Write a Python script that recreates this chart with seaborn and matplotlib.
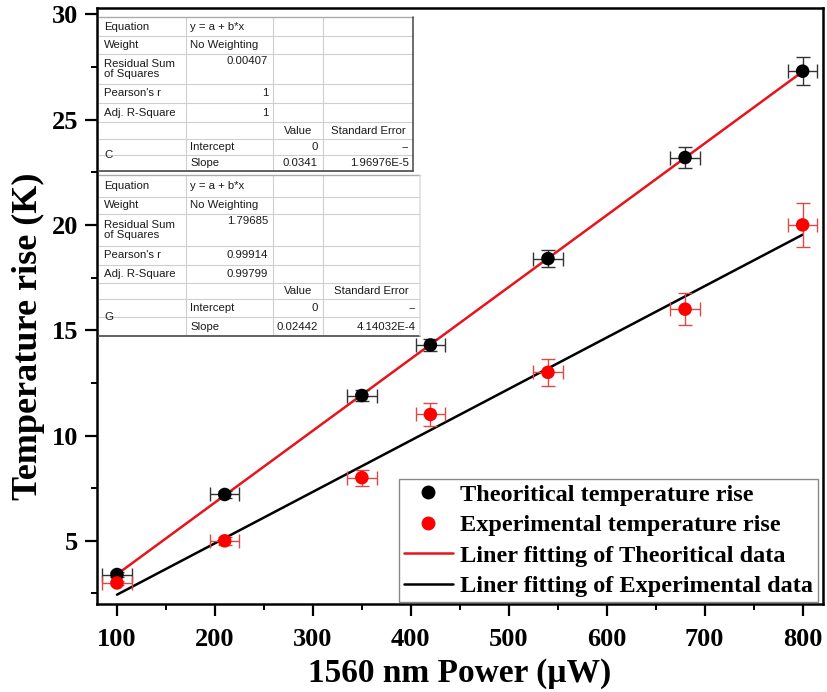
import numpy as np
import pandas as pd
import matplotlib
matplotlib.use('Agg')
import matplotlib.pyplot as plt
from matplotlib.lines import Line2D
import seaborn as sns

# data
power = [100, 210, 350, 420, 540, 680, 800]
power_err = [15, 15, 15, 15, 15, 15, 15]
theory_rise = [3.4, 7.2, 11.9, 14.3, 18.4, 23.2, 27.3]
theory_err = [0.1, 0.15, 0.25, 0.3, 0.4, 0.5, 0.65]
exp_rise = [3.0, 5.0, 8.0, 11.0, 13.0, 16.0, 20.0]
exp_err = [0.1, 0.2, 0.38, 0.55, 0.65, 0.75, 1.05]

# linear fits (intercept fixed at 0)
fit_x = [100, 800]
theory_slope = 0.0341
exp_slope = 0.02442

# fit report tables
table_c = [
    ["Equation", "y = a + b*x", "", ""],
    ["Weight", "No Weighting", "", ""],
    ["Residual Sum\nof Squares", "0.00407", "", ""],
    ["Pearson's r", "1", "", ""],
    ["Adj. R-Square", "1", "", ""],
    ["", "", "Value", "Standard Error"],
    ["C", "Intercept", "0", "--"],
    ["", "Slope", "0.0341", "1.96976E-5"],
]
table_g = [
    ["Equation", "y = a + b*x", "", ""],
    ["Weight", "No Weighting", "", ""],
    ["Residual Sum\nof Squares", "1.79685", "", ""],
    ["Pearson's r", "0.99914", "", ""],
    ["Adj. R-Square", "0.99799", "", ""],
    ["", "", "Value", "Standard Error"],
    ["G", "Intercept", "0", "--"],
    ["", "Slope", "0.02442", "4.14032E-4"],
]

sns.set_style('ticks')
plt.rcParams['font.family'] = ['Liberation Serif', 'DejaVu Serif']
plt.rcParams['font.weight'] = 'bold'
plt.rcParams['text.color'] = 'black'
plt.rcParams['axes.labelcolor'] = 'black'
plt.rcParams['xtick.color'] = 'black'
plt.rcParams['ytick.color'] = 'black'

W, H = 828, 692
fig = plt.figure(figsize=(W / 100, H / 100), dpi=100)
ax = fig.add_axes([97 / W, 1 - 604 / H, (823 - 97) / W, (604 - 8) / H])

theory_df = pd.DataFrame({'power': power, 'rise': theory_rise})
exp_df = pd.DataFrame({'power': power, 'rise': exp_rise})
fit_df = pd.DataFrame({
    'power': fit_x,
    'theory': [theory_slope * x for x in fit_x],
    'exp': [exp_slope * x for x in fit_x],
})

sns.lineplot(data=fit_df, x='power', y='theory', color='#e8141b', lw=1.8, ax=ax, zorder=2)
sns.lineplot(data=fit_df, x='power', y='exp', color='black', lw=1.8, ax=ax, zorder=2)

ax.errorbar(power, theory_rise, xerr=power_err, yerr=theory_err, fmt='none',
            ecolor='#333333', elinewidth=1, capsize=5, capthick=1, zorder=3)
ax.errorbar(power, exp_rise, xerr=power_err, yerr=exp_err, fmt='none',
            ecolor='#e04848', elinewidth=1, capsize=5, capthick=1, zorder=3)

sns.scatterplot(data=theory_df, x='power', y='rise', color='black', s=95,
                edgecolor='none', ax=ax, zorder=4)
sns.scatterplot(data=exp_df, x='power', y='rise', color='#ff0000', s=95,
                edgecolor='none', ax=ax, zorder=4)

ax.set_xlim(79.6, 820.8)
ax.set_ylim(2.0, 30.3)
ax.set_xticks(range(100, 801, 100))
ax.set_xticks(range(150, 801, 100), minor=True)
ax.set_yticks([5, 10, 15, 20, 25, 30])
ax.set_yticks([2.5, 7.5, 12.5, 17.5, 22.5, 27.5], minor=True)
ax.tick_params(which='major', direction='out', length=8.5, width=1.6, labelsize=19)
ax.tick_params(which='minor', direction='out', length=4, width=1.4)
ax.tick_params(axis='x', which='major', pad=9)
ax.tick_params(axis='y', which='major', pad=5)
for lab in ax.get_xticklabels() + ax.get_yticklabels():
    lab.set_fontweight('bold')
for sp in ax.spines.values():
    sp.set_visible(True)
    sp.set_linewidth(1.8)
    sp.set_color('black')

ax.set_xlabel('1560 nm Power (\u00b5W)', fontsize=24, fontweight='bold', labelpad=5)
ax.set_ylabel('Temperature rise (K)', fontsize=26, fontweight='bold')
ax.yaxis.set_label_coords(-0.072, 0.45)

handles = [
    Line2D([], [], ls='none', marker='o', color='black', markersize=9),
    Line2D([], [], ls='none', marker='o', color='#ff0000', markersize=9),
    Line2D([], [], color='#e8141b', lw=1.8),
    Line2D([], [], color='black', lw=1.8),
]
labels = ['Theoritical temperature rise', 'Experimental temperature rise',
          'Liner fitting of Theoritical data', 'Liner fitting of Experimental data']
leg = ax.legend(handles, labels, loc='lower right', bbox_to_anchor=(0.993, 0.003),
                borderaxespad=0,
                prop={'family': 'Liberation Serif', 'weight': 'bold', 'size': 17.5},
                frameon=True, fancybox=False, edgecolor='#888888', framealpha=1,
                handlelength=2.0, handletextpad=0.3, borderpad=0.2, labelspacing=0.35)
leg.get_frame().set_linewidth(1.0)

# overlay in pixel coordinates for the fit tables
ov = fig.add_axes([0, 0, 1, 1], zorder=5)
ov.set_xlim(0, W)
ov.set_ylim(H, 0)
ov.axis('off')


def draw_table(rows, row_y, col_x, edge):
    ov.add_patch(plt.Rectangle((col_x[0], row_y[0]), col_x[-1] - col_x[0],
                               row_y[-1] - row_y[0], facecolor='white',
                               edgecolor='none', zorder=1))
    for y in row_y[1:-1]:
        ov.plot([col_x[0], col_x[-1]], [y, y], color='#cfcfcf', lw=0.8, zorder=2)
    for x in col_x[1:-1]:
        ov.plot([x, x], [row_y[0], row_y[-1]], color='#cfcfcf', lw=0.8, zorder=2)
    ov.plot([col_x[0], col_x[-1]], [row_y[0], row_y[0]], color='#aaaaaa', lw=1.0, zorder=2)
    ov.plot([col_x[0], col_x[-1]], [row_y[-1], row_y[-1]], color='#555555', lw=1.3, zorder=2)
    ov.plot([col_x[-1], col_x[-1]], [row_y[0], row_y[-1]], color=edge, lw=1.1, zorder=2)
    tfont = dict(family='Liberation Sans', fontsize=8.2, fontweight='normal',
                 color='#1a1a1a', zorder=3)
    for i, row in enumerate(rows):
        ytop, ybot = row_y[i], row_y[i + 1]
        yc = (ytop + ybot) / 2
        c0, c1, c2, c3 = row
        if c0:
            if i == 6:
                ov.text(col_x[0] + 5, (ytop + row_y[i + 2]) / 2, c0, ha='left', va='center', **tfont)
            else:
                ov.text(col_x[0] + 5, yc, c0, ha='left', va='center', linespacing=1.1, **tfont)
        if c1:
            if c1[0].isdigit():
                ov.text(col_x[2] - 5, ytop + 2 if i == 2 else yc, c1, ha='right',
                        va='top' if i == 2 else 'center', **tfont)
            else:
                ov.text(col_x[1] + 4, yc, c1, ha='left', va='center', **tfont)
        if c2:
            if c2 == 'Value':
                ov.text((col_x[2] + col_x[3]) / 2, yc, c2, ha='center', va='center', **tfont)
            else:
                ov.text(col_x[3] - 5, yc, c2, ha='right', va='center', **tfont)
        if c3:
            if c3 == 'Standard Error':
                ov.text((col_x[3] + col_x[4]) / 2, yc, c3, ha='center', va='center', **tfont)
            else:
                ov.text(col_x[4] - 4, yc, c3, ha='right', va='center', **tfont)


draw_table(table_c, [17, 36, 54, 84, 103, 122, 139, 155, 171],
           [99, 186, 273, 323, 413], '#444444')
draw_table(table_g, [175, 197, 214, 246, 265, 283, 299, 317, 336],
           [99, 186, 273, 323, 420], '#dddddd')

fig.savefig('out.png', dpi=100)
